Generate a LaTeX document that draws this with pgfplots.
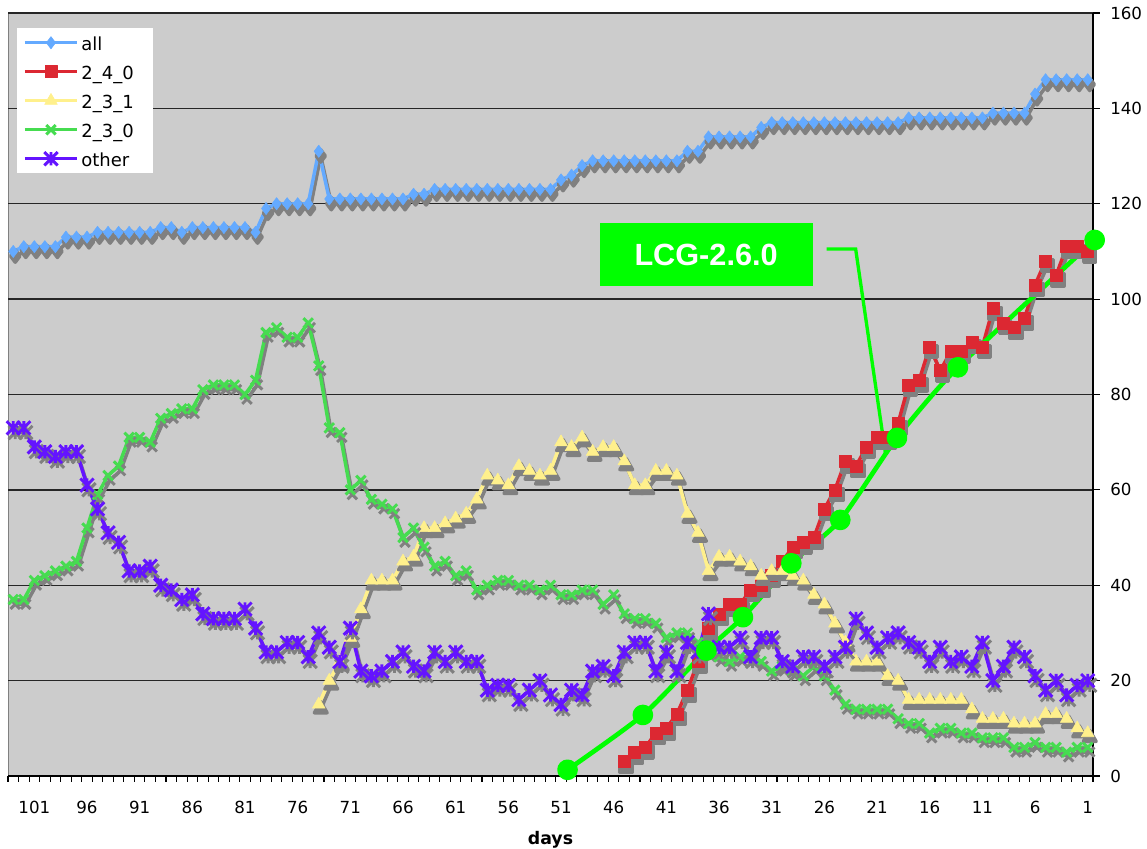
\documentclass[border=0pt]{standalone}
\usepackage{fontspec}
\setmainfont{DejaVu Sans}
\newfontfamily\lcgfont{Liberation Sans}
\usepackage{pgfplots}
\usepackage{pgfplotstable}
\pgfplotsset{compat=1.18}

\definecolor{plotbg}{RGB}{204,204,204}
\definecolor{shadowgray}{RGB}{128,128,128}
\definecolor{allblue}{RGB}{100,170,255}
\definecolor{redsq}{RGB}{220,40,50}
\definecolor{yeltri}{RGB}{255,240,140}
\definecolor{grnx}{RGB}{70,220,80}
\definecolor{purst}{RGB}{100,20,255}
\definecolor{lcg}{RGB}{0,255,0}

% Excel style star: an x with a vertical bar
\pgfdeclareplotmark{xstar}{%
  \pgfpathmoveto{\pgfqpoint{-\pgfplotmarksize}{-\pgfplotmarksize}}%
  \pgfpathlineto{\pgfqpoint{\pgfplotmarksize}{\pgfplotmarksize}}%
  \pgfpathmoveto{\pgfqpoint{-\pgfplotmarksize}{\pgfplotmarksize}}%
  \pgfpathlineto{\pgfqpoint{\pgfplotmarksize}{-\pgfplotmarksize}}%
  \pgfpathmoveto{\pgfqpoint{0pt}{-\pgfplotmarksize}}%
  \pgfpathlineto{\pgfqpoint{0pt}{\pgfplotmarksize}}%
  \pgfusepathqstroke}

% days before today: all, 2_4_0, 2_3_1, 2_3_0, other
\pgfplotstableread{
d   all a240 a231 a230 oth
103 110 nan nan 37 73
102 111 nan nan 37 73
101 111 nan nan 41 69
100 111 nan nan 42 68
99  111 nan nan 43 67
98  113 nan nan 44 68
97  113 nan nan 45 68
96  113 nan nan 52 61
95  114 nan nan 59 56
94  114 nan nan 63 51
93  114 nan nan 65 49
92  114 nan nan 71 43
91  114 nan nan 71 43
90  114 nan nan 70 44
89  115 nan nan 75 40
88  115 nan nan 76 39
87  114 nan nan 77 37
86  115 nan nan 77 38
85  115 nan nan 81 34
84  115 nan nan 82 33
83  115 nan nan 82 33
82  115 nan nan 82 33
81  115 nan nan 80 35
80  114 nan nan 83 31
79  119 nan nan 93 26
78  120 nan nan 94 26
77  120 nan nan 92 28
76  120 nan nan 92 28
75  120 nan nan 95 25
74  131 nan 15 86 30
73  121 nan 20 73 27
72  121 nan 24 72 24
71  121 nan 29 60 31
70  121 nan 35 62 22
69  121 nan 41 58 21
68  121 nan 41 57 22
67  121 nan 41 56 24
66  121 nan 45 50 26
65  122 nan 46 52 23
64  122 nan 52 48 22
63  123 nan 52 44 26
62  123 nan 53 45 24
61  123 nan 54 42 26
60  123 nan 55 43 24
59  123 nan 58 39 24
58  123 nan 63 40 18
57  123 nan 62 41 19
56  123 nan 61 41 19
55  123 nan 65 40 16
54  123 nan 64 40 18
53  123 nan 63 39 20
52  123 nan 64 40 17
51  125 nan 70 38 15
50  126 nan 69 38 18
49  128 nan 71 39 17
48  129 nan 68 39 22
47  129 nan 69 36 23
46  129 nan 69 38 21
45  129 3 66 34 26
44  129 5 61 33 28
43  129 6 61 33 28
42  129 9 64 32 22
41  129 10 64 29 26
40  129 13 63 30 22
39  131 18 55 30 28
38  131 24 51 28 26
37  134 31 43 26 34
36  134 34 46 25 27
35  134 36 46 24 27
34  134 36 45 25 29
33  134 39 44 25 25
32  136 40 42 24 29
31  137 42 43 22 29
30  137 45 43 23 24
29  137 48 42 22 23
28  137 49 41 21 25
27  137 50 38 23 25
26  137 56 36 21 23
25  137 60 32 18 25
24  137 66 28 15 27
23  137 65 24 14 33
22  137 69 24 14 30
21  137 71 24 14 27
20  137 71 21 14 29
19  137 74 20 12 30
18  138 82 16 11 28
17  138 83 16 11 27
16  138 90 16 9 24
15  138 85 16 10 27
14  138 89 16 10 24
13  138 89 16 9 25
12  138 91 14 9 23
11  138 90 12 8 28
10  139 98 12 8 20
9   139 95 12 8 23
8   139 94 11 6 27
7   139 96 11 6 25
6   143 103 11 7 21
5   146 108 13 6 18
4   146 105 13 6 20
3   146 111 12 5 17
2   146 111 10 6 19
1   146 110 9 6 20
}\datatable

\newcommand{\lentry}[1]{\makebox[49.5pt][l]{#1}}

\begin{document}
\begin{tikzpicture}
\begin{axis}[
    scale only axis,
    width=813.75pt, height=572.25pt,
    x dir=reverse,
    xmin=0.5, xmax=103.5,
    ymin=0, ymax=160,
    clip=false,
    axis background/.style={fill=plotbg, draw=gray},
    axis x line*=bottom,
    axis y line*=right,
    axis line style={black, line width=1pt},
    tick align=outside,
    xtick={1,6,...,101},
    minor xtick={0.5,1.5,...,103.5},
    major x tick style={draw=none},
    minor x tick style={black, line width=0.8pt},
    ytick={0,20,...,160},
    y tick style={black, line width=0.8pt},
    major tick length=5.25pt,
    minor tick length=4.5pt,
    ymajorgrids,
    major grid style={black!85, line width=1.1pt},
    /pgf/number format/assume math mode=true,
    tick label style={font=\fontsize{12.5}{14}\selectfont},
    xticklabel style={anchor=base, yshift=-23pt},
    yticklabel style={anchor=west, inner sep=0pt, xshift=7.5pt},
    xlabel={days},
    xlabel style={at={(axis description cs:0.5,0)}, anchor=base, yshift=-51.75pt,
      font=\fontsize{13}{15}\selectfont\bfseries},
    legend style={at={(axis description cs:0,1)}, anchor=north west,
      xshift=6.75pt, yshift=-11.25pt, draw=none, fill=white,
      font=\fontsize{13.5}{15}\selectfont, inner xsep=4.5pt, inner ysep=2.1pt,
      row sep=4.2pt,
      nodes={inner sep=0pt, text height=14.55pt, text depth=3pt},
      /tikz/every odd column/.append style={column sep=2pt}},
    legend cell align=left,
    legend image code/.code={
      \draw[mark repeat=2, mark phase=2] plot coordinates {(0pt,0pt) (19.5pt,0pt) (39pt,0pt)};},
    every axis plot/.append style={line width=2.6pt, line join=round},
    shadow/.style={forget plot, color=shadowgray, xshift=1.5pt, yshift=-3.5pt},
]
% all
\addplot[shadow, mark=diamond*, mark size=4.6pt] table[x=d, y=all] {\datatable};
\addplot[color=allblue, mark=diamond*, mark size=4.6pt, mark options={solid, line width=0.4pt}] table[x=d, y=all] {\datatable};
% 2_4_0
\addplot[shadow, mark=square*, mark size=4.5pt] table[x=d, y=a240] {\datatable};
\addplot[color=redsq, mark=square*, mark size=4.5pt, mark options={solid, line width=0.4pt}] table[x=d, y=a240] {\datatable};
% 2_3_1
\addplot[shadow, mark=triangle*, mark size=5.5pt] table[x=d, y=a231] {\datatable};
\addplot[color=yeltri, mark=triangle*, mark size=5.5pt, mark options={solid, line width=0.4pt}] table[x=d, y=a231] {\datatable};
% 2_3_0
\addplot[shadow, mark=x, mark size=5pt, mark options={line width=2.2pt}] table[x=d, y=a230] {\datatable};
\addplot[color=grnx, mark=x, mark size=5pt, mark options={solid, line width=2.2pt}] table[x=d, y=a230] {\datatable};
% other
\addplot[shadow, mark=xstar, mark size=5pt, mark options={line width=2.2pt}] table[x=d, y=oth] {\datatable};
\addplot[color=purst, mark=xstar, mark size=5pt, mark options={solid, line width=2.2pt}] table[x=d, y=oth] {\datatable};

\legend{\lentry{all}, \lentry{2\_4\_0}, \lentry{2\_3\_1}, \lentry{2\_3\_0}, \lentry{other}}

% LCG-2.6.0 overlay
\addplot[forget plot, color=lcg, line width=3.5pt, smooth, tension=0.4, mark=*, mark size=6pt, mark options={solid}]
  coordinates {(50.38,1.3) (43.23,12.8) (37.21,26.3) (33.73,33.3) (29.14,44.6)
               (24.49,53.7) (19.11,70.9) (13.32,85.7) (0.34,112.4)};
\draw[lcg, line width=2.5pt] (axis cs:25.79,110.5) -- (axis cs:23.03,110.5) -- (axis cs:20.18,67.3);
\node[fill=lcg, text=white, minimum width=159.75pt, minimum height=47.25pt, inner sep=0pt,
  font=\lcgfont\bfseries\fontsize{23}{23}\selectfont] at (axis cs:37.23,109.3) {LCG-2.6.0};
\end{axis}
\pgfresetboundingbox
\path[use as bounding box] (-6pt,-54.75pt) rectangle (854.25pt,582pt);
\end{tikzpicture}
\end{document}
